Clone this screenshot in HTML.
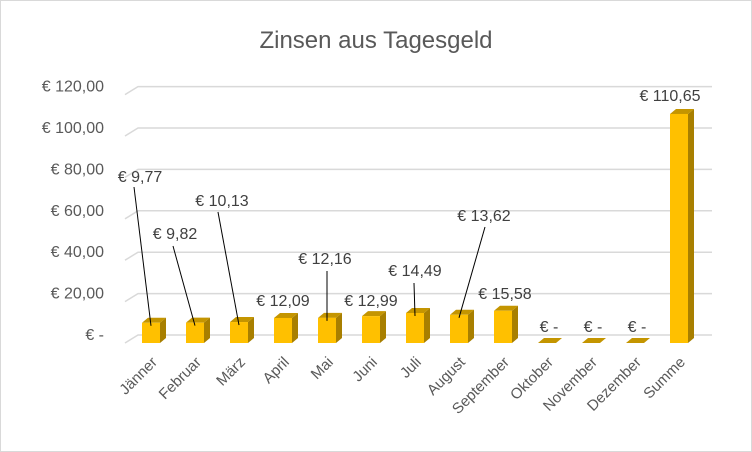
<!DOCTYPE html>
<html><head><meta charset="utf-8"><style>
body{margin:0;background:#fff}
svg{display:block;font-family:"Liberation Sans",sans-serif}
</style></head><body>
<svg id="c" width="752" height="452">
<rect x="0.5" y="0.5" width="751" height="451" fill="#fff" stroke="#d9d9d9"/>
<text x="376" y="48" text-anchor="middle" font-size="24" fill="#595959">Zinsen aus Tagesgeld</text>
<g id="grid"></g><g id="bars"></g><g id="labels"></g>
</svg>
<script>
const categories=["Jänner","Februar","März","April","Mai","Juni","Juli","August","September","Oktober","November","Dezember","Summe"];
const values=[9.77,9.82,10.13,12.09,12.16,12.99,14.49,13.62,15.58,0,0,0,110.65];
const valueLabels=["€  9,77","€  9,82","€  10,13","€  12,09","€  12,16","€  12,99","€  14,49","€  13,62","€  15,58","€  -","€  -","€  -","€  110,65"];
const ticks=[0,20,40,60,80,100,120];
const tickLabels=["€ -","€  20,00","€  40,00","€  60,00","€  80,00","€  100,00","€  120,00"];
// callout label centers [x,y] and leader start points
const labelPos=[[140,182],[175,239],[222,206],[283,306],[325,264],[371,306],[415,276],[484,221],[505,299],[549,332],[593,332],[637,332],[670,101]];
const leaderStart=[[134,187],[173,246],[218,212],null,[327,271],null,[414,283],[485,227],null,null,null,null,null];
const NS="http://www.w3.org/2000/svg";
const s=2.07, y0=343, back0=335, dy=8, depthX=6, depthY=5;
const xC=i=>151+i*44;
const yF=v=>y0-v*s, yB=v=>back0-v*s;
function mk(t,a,p){const e=document.createElementNS(NS,t);for(const k in a)e.setAttribute(k,a[k]);p.appendChild(e);return e;}
const G=document.getElementById('grid'),B=document.getElementById('bars'),L=document.getElementById('labels');
ticks.forEach((t,i)=>{
 const y=yB(t);
 const l=mk('path',{d:`M125 ${y+dy} L138 ${y} L712 ${y}`,stroke:'#d9d9d9','stroke-width':1.5,fill:'none'},G);
 
 
 const tx=mk('text',{x:104,y:y+dy-3,'text-anchor':'end','font-size':16,fill:'#595959'},G);
 tx.textContent=tickLabels[i];
 
 
});
values.forEach((v,i)=>{
 const x=xC(i)-9,w=18,top=yF(v),h=y0-top;
 if(h>0.5){
  const side=mk('path',{d:`M${x+w} ${top} L${x+w+depthX} ${top-depthY} L${x+w+depthX} ${y0-depthY} L${x+w} ${y0}Z`,fill:'#a87f00'},B);
  
  
 }
 const tp=mk('path',{d:`M${x} ${top} L${x+depthX} ${top-depthY} L${x+w+depthX} ${top-depthY} L${x+w} ${top}Z`,fill:'#c49500'},B);
 
 
 const r=mk('rect',{x:x,y:top,width:w,height:Math.max(h,0),fill:'#ffc000'},B);
 
 
 const lp=labelPos[i];
 const t=mk('text',{x:lp[0],y:lp[1],'text-anchor':'middle','font-size':16,fill:'#404040'},L);
 t.textContent=valueLabels[i];
 
 
 const ls=leaderStart[i];
 if(ls){
  const ln=mk('line',{x1:ls[0],y1:ls[1],x2:xC(i),y2:top+3,stroke:'#000','stroke-width':1},L);
  
  
 }
 const c=mk('text',{x:0,y:0,'text-anchor':'end','font-size':15,fill:'#595959',transform:`translate(${xC(i)+7},${363}) rotate(-45)`},L);
 c.textContent=categories[i];
 
 
});
</script>
</body></html>
